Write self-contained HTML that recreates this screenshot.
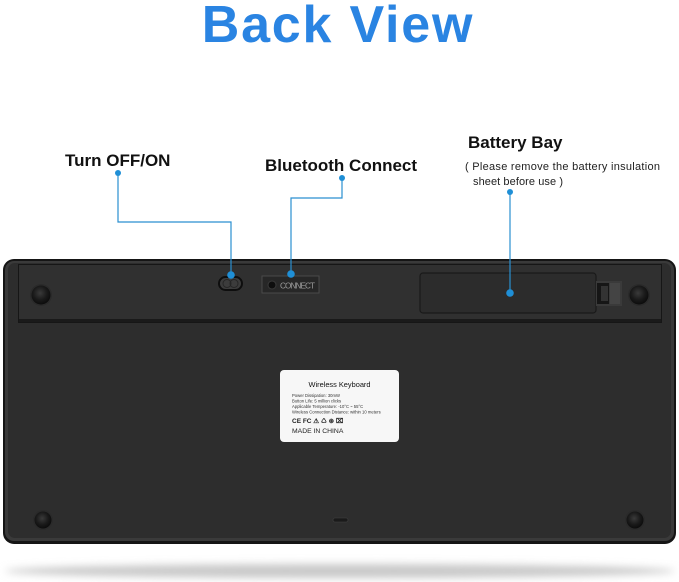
<!DOCTYPE html>
<html><head><meta charset="utf-8"><style>
html,body{margin:0;padding:0;background:#fff;}
body{width:679px;height:582px;overflow:hidden;}
svg{display:block;}
</style></head><body>
<svg width="679" height="582" viewBox="0 0 679 582" xmlns="http://www.w3.org/2000/svg">
<defs>
<radialGradient id="foot" cx="45%" cy="40%" r="60%">
<stop offset="0" stop-color="#3a3a3a"/><stop offset="0.6" stop-color="#1a1a1a"/><stop offset="1" stop-color="#0c0c0c"/>
</radialGradient>
<filter id="blur" x="-10%" y="-100%" width="120%" height="300%"><feGaussianBlur stdDeviation="4"/></filter>
</defs>

<!-- Title -->
<text x="338" y="42" text-anchor="middle" font-family="Liberation Sans, sans-serif" font-weight="bold" font-size="52" letter-spacing="1.8" fill="#2a84e2">Back View</text>

<!-- Labels -->
<text x="65" y="166" font-family="Liberation Sans, sans-serif" font-weight="bold" font-size="17" fill="#111">Turn OFF/ON</text>
<text x="265" y="171" font-family="Liberation Sans, sans-serif" font-weight="bold" font-size="17" fill="#111">Bluetooth Connect</text>
<text x="468" y="148" font-family="Liberation Sans, sans-serif" font-weight="bold" font-size="17" fill="#111">Battery Bay</text>
<text x="465" y="170" font-family="Liberation Sans, sans-serif" font-size="11" fill="#222" textLength="195" lengthAdjust="spacing">( Please remove the battery insulation</text>
<text x="473" y="185" font-family="Liberation Sans, sans-serif" font-size="11" fill="#222" textLength="90" lengthAdjust="spacing">sheet before use )</text>

<!-- Shadow under keyboard -->
<ellipse cx="340" cy="571" rx="335" ry="7" fill="#c9c9c9" filter="url(#blur)"/>

<!-- Keyboard body -->
<rect x="3" y="259" width="673" height="285" rx="11" fill="#151515"/>
<rect x="5" y="261" width="669" height="280" rx="9" fill="#3a3a3a"/>
<rect x="8" y="263" width="663" height="275" rx="7" fill="#2d2d2d"/>

<!-- Top strip -->
<rect x="18" y="264" width="644" height="59" fill="#161616"/>
<rect x="19" y="265" width="642" height="55" fill="#303030"/>
<rect x="19" y="319" width="642" height="3" fill="#1a1a1a"/>

<!-- Feet -->
<circle cx="41" cy="295" r="11" fill="#2a2a2a"/>
<circle cx="41" cy="295" r="9.5" fill="url(#foot)"/>
<circle cx="639" cy="295" r="11" fill="#2a2a2a"/>
<circle cx="639" cy="295" r="9.5" fill="url(#foot)"/>
<circle cx="43" cy="520" r="10" fill="#2a2a2a"/>
<circle cx="43" cy="520" r="8.5" fill="url(#foot)"/>
<circle cx="635" cy="520" r="10" fill="#2a2a2a"/>
<circle cx="635" cy="520" r="8.5" fill="url(#foot)"/>

<!-- bottom slot -->
<rect x="333" y="518" width="15" height="4" rx="2" fill="#1a1a1a" stroke="#444" stroke-width="0.6"/>

<!-- Switch -->
<rect x="219" y="277" width="23" height="13" rx="6.5" fill="#3c3c3c" stroke="#0e0e0e" stroke-width="2"/>
<circle cx="227" cy="283.5" r="4" fill="none" stroke="#262626" stroke-width="1"/>
<circle cx="234" cy="283.5" r="4" fill="none" stroke="#262626" stroke-width="1"/>

<!-- Connect button -->
<rect x="262" y="276" width="57" height="17" fill="#272727" stroke="#4a4a4a" stroke-width="1"/>
<circle cx="272" cy="285" r="4" fill="#0e0e0e" stroke="#3a3a3a" stroke-width="1"/>
<text x="280" y="288.5" font-family="Liberation Sans, sans-serif" font-size="8.2" fill="#9a9a9a" textLength="35">CONNECT</text>

<!-- Battery cover -->
<rect x="420" y="273" width="176" height="40" rx="3" fill="#2c2c2c" stroke="#1a1a1a" stroke-width="1.2"/>
<!-- Latch -->
<rect x="596" y="281" width="26" height="25" fill="#3a3a3a"/>
<rect x="597" y="283" width="12" height="21" fill="#161616"/>
<rect x="601" y="286" width="7" height="15" fill="#333"/>
<rect x="610" y="283" width="10" height="21" fill="#444"/>

<!-- Label card -->
<rect x="280" y="370" width="119" height="72" rx="4" fill="#f7f7f7"/>
<text x="339.5" y="387" text-anchor="middle" font-family="Liberation Sans, sans-serif" font-size="7.4" fill="#111">Wireless Keyboard</text>
<text x="292" y="397" font-family="Liberation Sans, sans-serif" font-size="4.2" fill="#333">Power Dissipation: 30mW</text>
<text x="292" y="402.5" font-family="Liberation Sans, sans-serif" font-size="4.2" fill="#333">Button Life: 5 million clicks</text>
<text x="292" y="408" font-family="Liberation Sans, sans-serif" font-size="4.2" fill="#333">Applicable Temperature: -10°C ~ 55°C</text>
<text x="292" y="413.5" font-family="Liberation Sans, sans-serif" font-size="4.2" fill="#333">Wireless Connection Distance: within 10 meters</text>
<text x="292" y="423" font-family="Liberation Sans, sans-serif" font-size="6.5" font-weight="bold" fill="#222">CE FC ⚠ ♺ ⊛ ⌧</text>
<text x="292" y="433" font-family="Liberation Sans, sans-serif" font-size="6.8" fill="#222">MADE IN CHINA</text>

<!-- Connectors -->
<g stroke="#2a8fd0" stroke-width="1.2" fill="none">
<polyline points="118,173 118,222 231,222 231,275"/>
<polyline points="342,178 342,198 291,198 291,274"/>
<line x1="510" y1="192" x2="510" y2="293"/>
</g>
<g fill="#1f8fd6">
<circle cx="118" cy="173" r="3"/>
<circle cx="231" cy="275" r="3.8"/>
<circle cx="342" cy="178" r="3"/>
<circle cx="291" cy="274" r="3.8"/>
<circle cx="510" cy="192" r="3"/>
<circle cx="510" cy="293" r="3.8"/>
</g>
</svg>
</body></html>
